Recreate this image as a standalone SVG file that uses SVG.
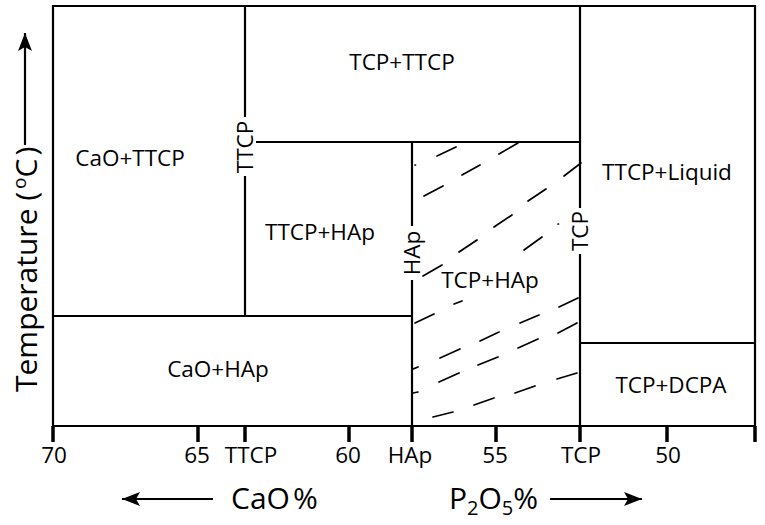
<svg xmlns="http://www.w3.org/2000/svg" width="765" height="525" viewBox="0 0 765 525">
<style>
  .ln{stroke:#000;stroke-width:2.2;fill:none;stroke-linecap:butt}
  .tk{stroke:#000;stroke-width:3.5;fill:none}
  .h{stroke:#000;stroke-width:1.7;fill:none;stroke-linecap:round}
  .t{font-family:"Open Sans","Liberation Sans",sans-serif;fill:#000}
  .rl{font-size:22.5px;text-anchor:middle}
  .ax{font-size:22.5px;text-anchor:middle}
  .big{font-size:30px}
</style>
<defs>
  <marker id="ah" markerUnits="userSpaceOnUse" markerWidth="20" markerHeight="14" refX="18" refY="7" orient="auto">
    <path d="M0,0 L18,7 L0,14 L4,7 Z" fill="#000"/>
  </marker>
</defs>
<rect width="765" height="525" fill="#fff"/>

<g id="frame">
  <path class="ln" d="M53,426 V6 H755 V426"/>
  <line class="ln" x1="53" y1="426" x2="755" y2="426"/>
</g>

<g id="boundaries">
  <line class="ln" x1="245" y1="6" x2="245" y2="117"/>
  <line class="ln" x1="245" y1="176" x2="245" y2="316"/>
  <line class="ln" x1="256" y1="142" x2="580" y2="142"/>
  <line class="ln" x1="53" y1="316" x2="412" y2="316"/>
  <line class="ln" x1="412" y1="142" x2="412" y2="226"/>
  <line class="ln" x1="412" y1="280" x2="412" y2="426"/>
  <line class="ln" x1="580" y1="6" x2="580" y2="208"/>
  <line class="ln" x1="580" y1="254" x2="580" y2="426"/>
  <line class="ln" x1="580" y1="343" x2="755" y2="343"/>
</g>

<g id="hatch">
  <line class="h" x1="437" y1="156" x2="456" y2="147"/>
  <line class="h" x1="499" y1="154" x2="518" y2="143"/>
  <line class="h" x1="415" y1="165" x2="415.5" y2="165"/>
  <line class="h" x1="462" y1="175" x2="480" y2="165"/>
  <line class="h" x1="424" y1="196" x2="443" y2="186"/>
  <line class="h" x1="564" y1="176" x2="581" y2="163"/>
  <line class="h" x1="528" y1="201" x2="546" y2="189"/>
  <line class="h" x1="494" y1="227" x2="512" y2="215"/>
  <line class="h" x1="558" y1="224" x2="558.5" y2="224"/>
  <line class="h" x1="459" y1="252" x2="477" y2="240"/>
  <line class="h" x1="524" y1="250" x2="542" y2="237"/>
  <line class="h" x1="423" y1="276" x2="442" y2="265"/>
  <line class="h" x1="454" y1="304" x2="462" y2="301"/>
  <line class="h" x1="559" y1="307" x2="578" y2="298"/>
  <line class="h" x1="415" y1="323" x2="434" y2="314"/>
  <line class="h" x1="520" y1="323" x2="539" y2="315"/>
  <line class="h" x1="480" y1="341" x2="499" y2="332"/>
  <line class="h" x1="440" y1="358" x2="460" y2="349"/>
  <line class="h" x1="413" y1="369" x2="418" y2="367"/>
  <line class="h" x1="558" y1="333" x2="577" y2="323"/>
  <line class="h" x1="518" y1="348" x2="538" y2="339"/>
  <line class="h" x1="478" y1="365" x2="498" y2="357"/>
  <line class="h" x1="439" y1="382" x2="459" y2="373"/>
  <line class="h" x1="413" y1="393" x2="418" y2="392"/>
  <line class="h" x1="557" y1="379" x2="577" y2="373"/>
  <line class="h" x1="515" y1="393" x2="535" y2="386"/>
  <line class="h" x1="474" y1="405" x2="494" y2="398"/>
  <line class="h" x1="433" y1="417" x2="453" y2="412"/>
</g>

<g id="boundary-labels" class="t">
  <text class="ax" transform="translate(253,147) rotate(-90)">TTCP</text>
  <text class="ax" transform="translate(420,253) rotate(-90)">HAp</text>
  <text class="ax" transform="translate(588,231) rotate(-90)">TCP</text>
</g>

<g id="regions" class="t rl">
  <g id="r-tcp-ttcp"><text x="402" y="70">TCP+TTCP</text></g>
  <g id="r-cao-ttcp"><text x="130" y="166">CaO+TTCP</text></g>
  <g id="r-ttcp-liquid"><text x="667" y="180">TTCP+Liquid</text></g>
  <g id="r-ttcp-hap"><text x="320" y="240">TTCP+HAp</text></g>
  <g id="r-tcp-hap"><text x="490" y="288">TCP+HAp</text></g>
  <g id="r-cao-hap"><text x="218" y="377">CaO+HAp</text></g>
  <g id="r-tcp-dcpa"><text x="671" y="393">TCP+DCPA</text></g>
</g>

<g id="x-axis">
  <g id="ticks">
    <line class="tk" x1="53" y1="426" x2="53" y2="442"/>
    <line class="tk" x1="198" y1="426" x2="198" y2="442"/>
    <line class="tk" x1="245" y1="426" x2="245" y2="442"/>
    <line class="tk" x1="349" y1="426" x2="349" y2="442"/>
    <line class="tk" x1="412" y1="426" x2="412" y2="442"/>
    <line class="tk" x1="496" y1="426" x2="496" y2="442"/>
    <line class="tk" x1="580" y1="426" x2="580" y2="442"/>
    <line class="tk" x1="667" y1="426" x2="667" y2="442"/>
    <line class="tk" x1="755" y1="426" x2="755" y2="442"/>
  </g>
  <g class="t ax">
    <text x="54" y="463">70</text>
    <text x="197" y="463">65</text>
    <text x="251" y="463">TTCP</text>
    <text x="348" y="463">60</text>
    <text x="410" y="463">HAp</text>
    <text x="495" y="463">55</text>
    <text x="581" y="463">TCP</text>
    <text x="668" y="463">50</text>
  </g>
</g>

<g id="axis-titles">
  <line class="ln" x1="213" y1="499" x2="122" y2="499" marker-end="url(#ah)"/>
  <text class="t big" x="231" y="509">CaO<tspan dx="3">%</tspan></text>
  <text class="t big" x="449" y="509">P<tspan font-size="20" dy="6">2</tspan><tspan dy="-6">O</tspan><tspan font-size="20" dy="6">5</tspan><tspan dy="-6">%</tspan></text>
  <line class="ln" x1="550" y1="499" x2="642" y2="499" marker-end="url(#ah)"/>
  <text class="t big" transform="translate(37,392) rotate(-90)">Temperature (<tspan font-size="19" dx="3" dy="-11">o</tspan><tspan dy="11">C</tspan><tspan dx="3">)</tspan></text>
  <line class="ln" x1="25" y1="145" x2="25" y2="33" marker-end="url(#ah)"/>
</g>
</svg>
